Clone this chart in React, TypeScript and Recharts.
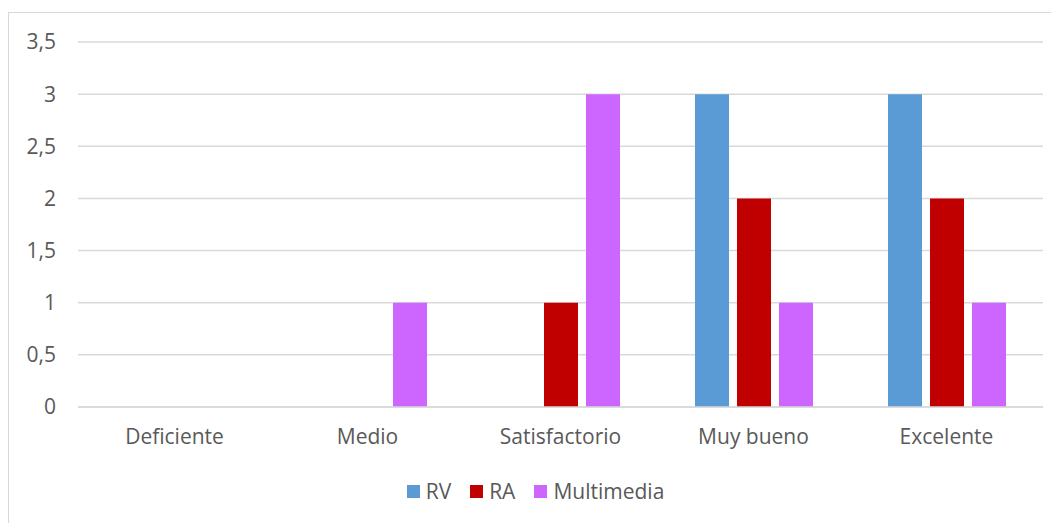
import React from 'react';
import { BarChart, Bar, XAxis, YAxis, CartesianGrid, Legend } from 'recharts';

const categories = ['Deficiente', 'Medio', 'Satisfactorio', 'Muy bueno', 'Excelente'];
const rvValues = [0, 0, 0, 3, 3];
const raValues = [0, 0, 1, 2, 2];
const multimediaValues = [0, 1, 3, 1, 1];
const yTicks = [0, 0.5, 1, 1.5, 2, 2.5, 3, 3.5];

const series = [
  { key: 'RV', color: '#5b9bd5' },
  { key: 'RA', color: '#c00000' },
  { key: 'Multimedia', color: '#cc66ff' },
];

const data = categories.map((name, i) => ({
  name,
  RV: rvValues[i],
  RA: raValues[i],
  Multimedia: multimediaValues[i],
}));

const font = "'Open Sans', 'Liberation Sans', sans-serif";
const textColor = '#595959';
const gridColor = '#d9d9d9';
const fontSize = 21;

const LegendContent = () => (
  <div style={{ display: 'flex', justifyContent: 'center', alignItems: 'center', gap: 19, fontFamily: font, fontSize, color: textColor }}>
    {series.map((s) => (
      <div key={s.key} style={{ display: 'flex', alignItems: 'center', gap: 6 }}>
        <span style={{ display: 'inline-block', width: 13, height: 13, background: s.color }} />
        <span>{s.key}</span>
      </div>
    ))}
  </div>
);

export default function App() {
  return (
    <div
      style={{
        marginTop: 4,
        width: 1051,
        height: 511,
        borderTop: `1px solid ${gridColor}`,
        borderLeft: `1px solid ${gridColor}`,
        background: '#fff',
        fontFamily: font,
      }}
    >
      <BarChart
        width={1050}
        height={510}
        data={data}
        margin={{ top: 29, right: 16, left: 19, bottom: 38 }}
        barCategoryGap={38}
        barGap={8}
      >
        <CartesianGrid vertical={false} stroke={gridColor} strokeWidth={1.5} />
        <XAxis
          dataKey="name"
          height={50}
          axisLine={{ stroke: gridColor, strokeWidth: 1.5 }}
          tickLine={false}
          tickSize={0}
          tickMargin={22}
          tick={{ fill: textColor, fontSize, fontFamily: font }}
        />
        <YAxis
          width={50}
          domain={[0, 3.5]}
          ticks={yTicks}
          axisLine={false}
          tickLine={false}
          tickSize={0}
          tickMargin={22}
          tick={{ fill: textColor, fontSize, fontFamily: font }}
          tickFormatter={(v: number) => String(v).replace('.', ',')}
        />
        <Legend
          verticalAlign="bottom"
          align="center"
          wrapperStyle={{ bottom: 18 }}
          content={<LegendContent />}
        />
        {series.map((s) => (
          <Bar key={s.key} dataKey={s.key} fill={s.color} isAnimationActive={false} />
        ))}
      </BarChart>
    </div>
  );
}
